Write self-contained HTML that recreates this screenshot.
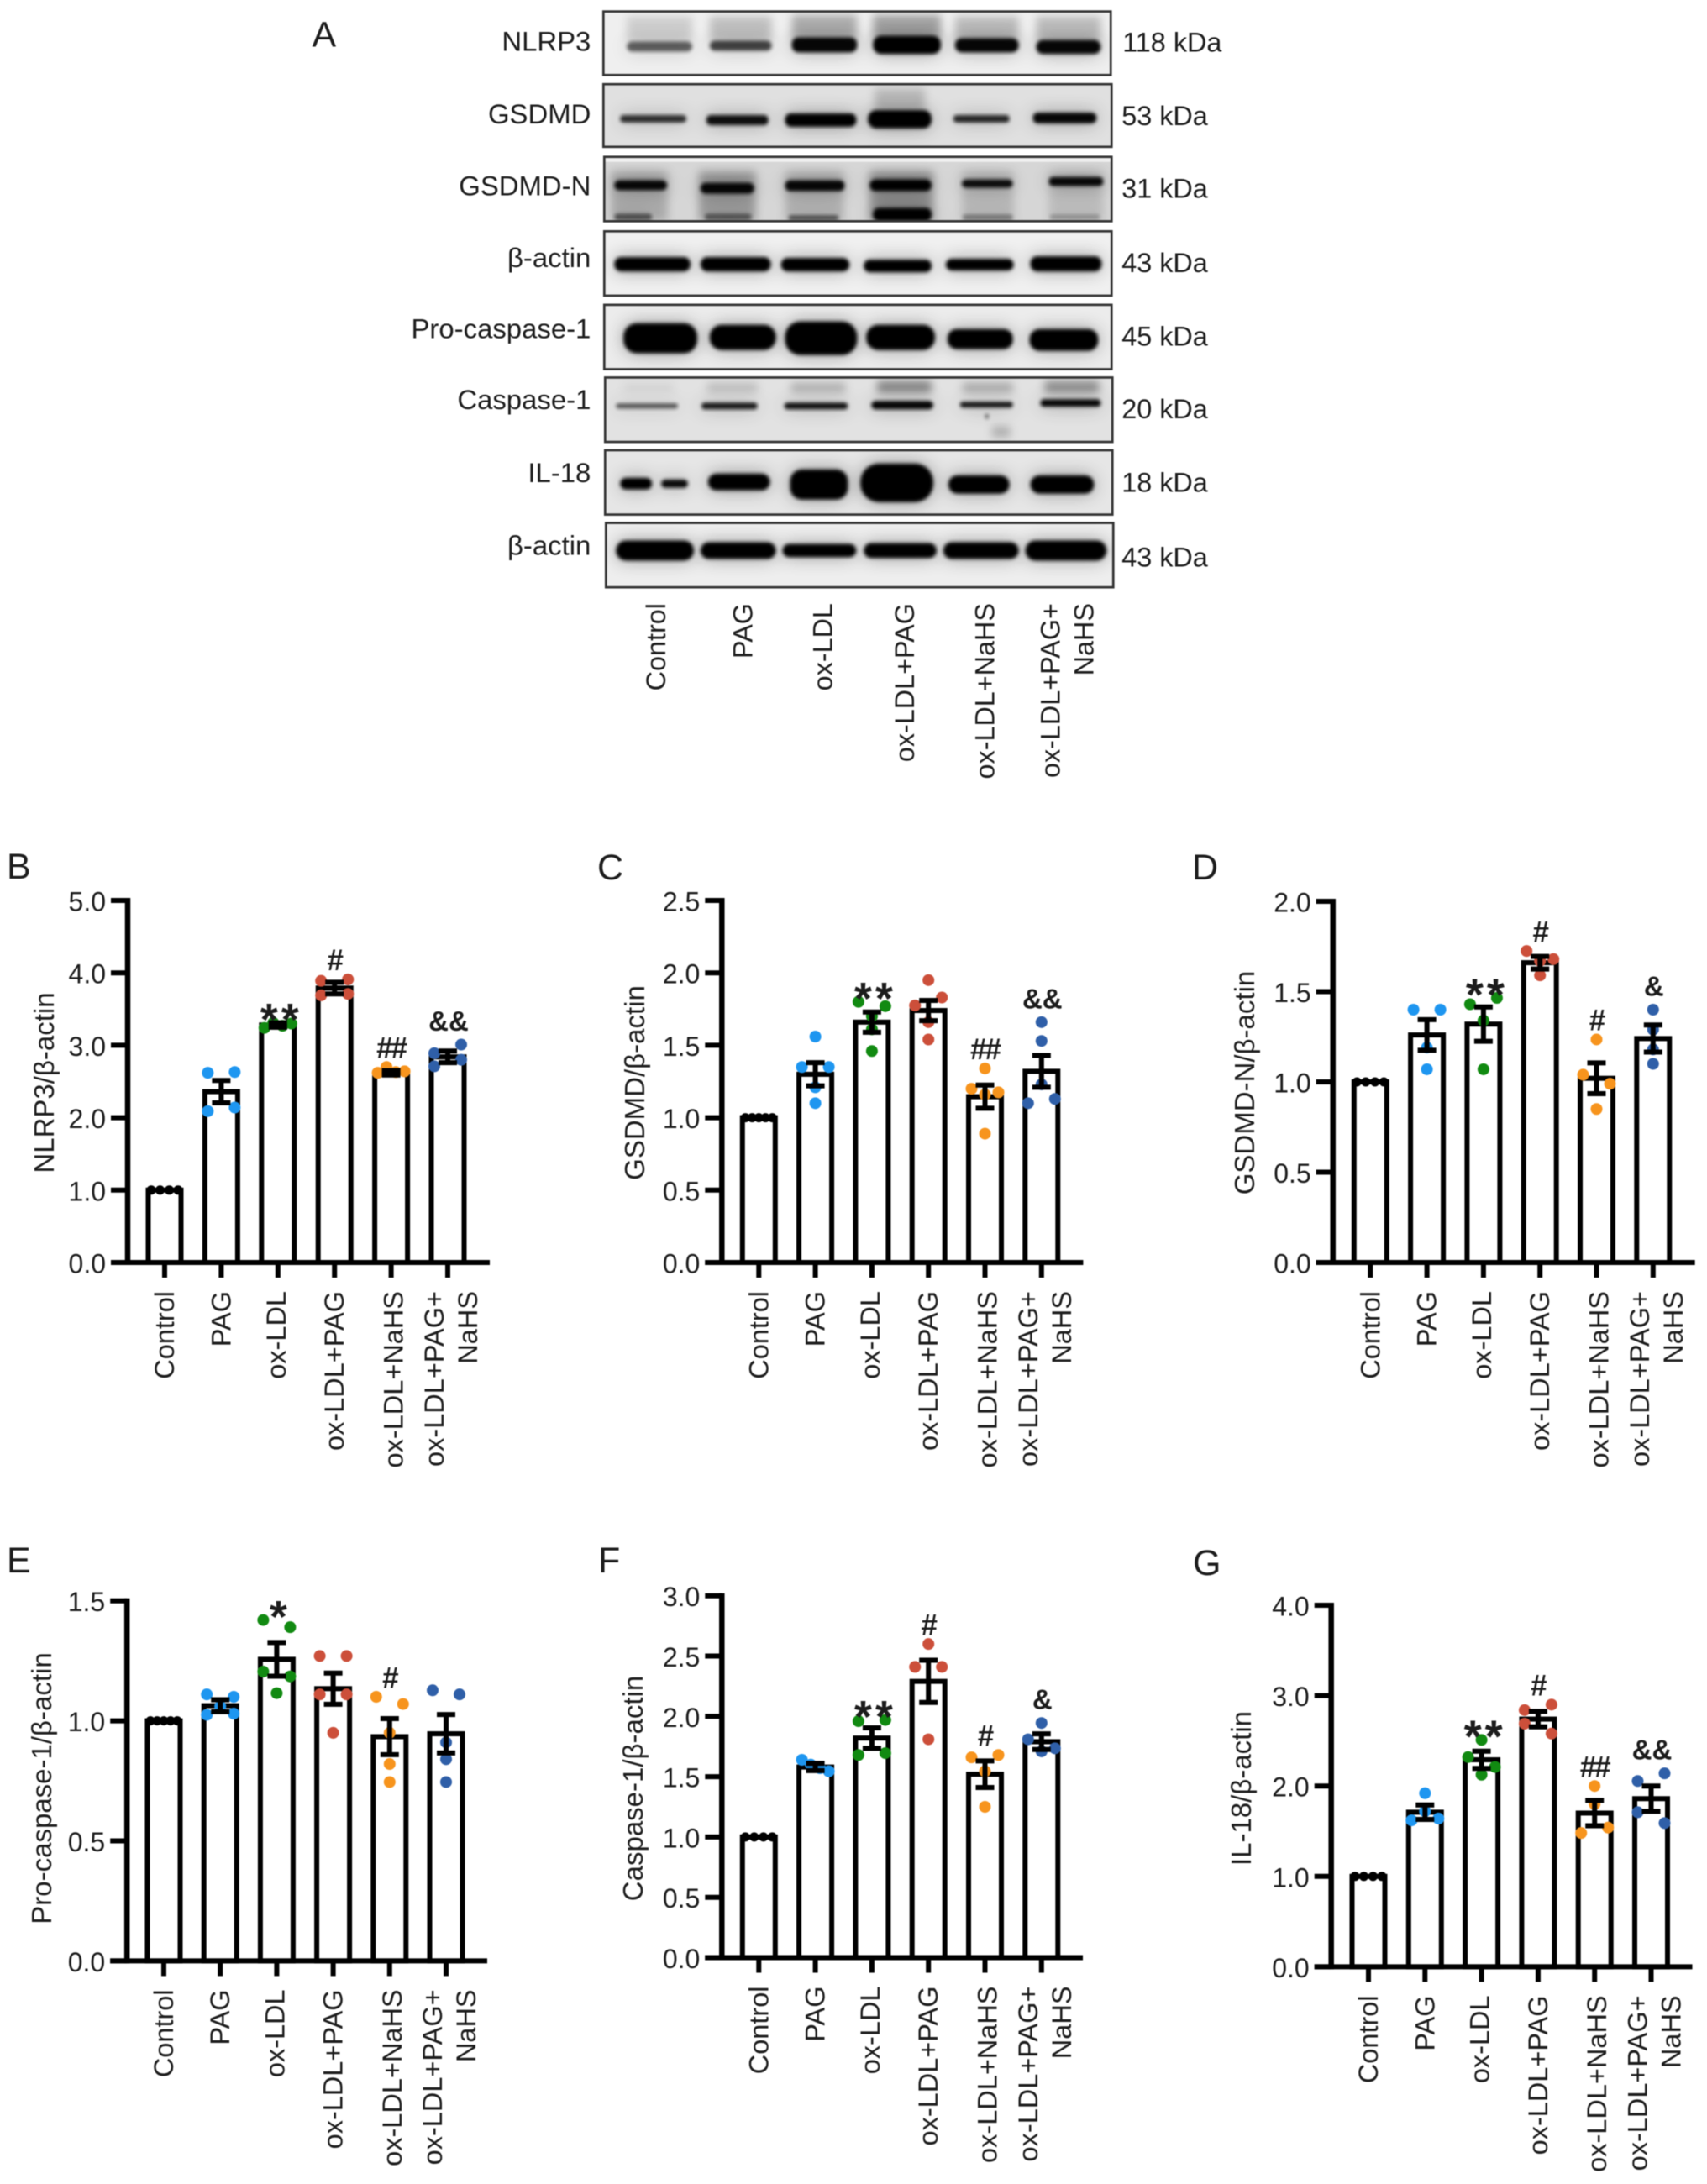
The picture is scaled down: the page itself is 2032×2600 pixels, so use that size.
<!DOCTYPE html>
<html lang="en">
<head>
<meta charset="utf-8">
<title>Western blot and densitometry panels</title>
<style>
html,body{margin:0;padding:0;background:#fff;}
svg text{font-family:"Liberation Sans",Arial,sans-serif;fill:#1c1c1c;}
#figure{display:block;filter:blur(0.6px);}
</style>
</head>
<body>
<svg id="figure" xmlns="http://www.w3.org/2000/svg" width="2032" height="2600" viewBox="0 0 2032 2600">
<defs>
<filter id="band-blur" x="-30%" y="-150%" width="160%" height="400%">
<feGaussianBlur in="SourceGraphic" stdDeviation="2.2" result="core"/>
<feGaussianBlur in="SourceGraphic" stdDeviation="11" result="wide"/>
<feComponentTransfer in="wide" result="halo"><feFuncA type="linear" slope="0.38"/></feComponentTransfer>
<feMerge><feMergeNode in="halo"/><feMergeNode in="core"/></feMerge>
</filter>
<filter id="soft-blur" x="-30%" y="-50%" width="160%" height="200%"><feGaussianBlur stdDeviation="5"/></filter>
</defs>
<rect width="2032" height="2600" fill="#fff"/>

<g id="panel-a" transform="matrix(.9966 0 0 .995 -.24 -.3)">
<text x="373" y="56" font-size="43">A</text>

<svg x="721" y="14" width="606" height="76" viewBox="721 14 606 76">
<rect x="721" y="14" width="606" height="76" fill="#efefef"/>
<g filter="url(#soft-blur)" fill="#000">
<rect x="749" y="20" width="78" height="30" opacity=".14"/>
<rect x="848" y="20" width="74" height="30" opacity=".2"/>
<rect x="946" y="18" width="78" height="30" opacity=".28"/>
<rect x="1043" y="18" width="81" height="30" opacity=".32"/>
<rect x="1141" y="20" width="76" height="30" opacity=".22"/>
<rect x="1238" y="20" width="77" height="30" opacity=".22"/>
</g>
<g filter="url(#band-blur)" fill="#000">
<rect x="749" y="50" width="78" height="12" rx="6" opacity=".58"/>
<rect x="848" y="49" width="74" height="12" rx="6" opacity=".7"/>
<rect x="946" y="45" width="78" height="18" rx="8" opacity=".97"/>
<rect x="1043" y="43" width="81" height="22" rx="10"/>
<rect x="1141" y="46" width="76" height="17" rx="8" opacity=".97"/>
<rect x="1238" y="48" width="77" height="17" rx="8" opacity=".97"/>
</g>
</svg>
<rect x="721" y="14" width="606" height="76" fill="none" stroke="#333" stroke-width="2.7"/>

<svg x="721" y="101" width="607" height="75" viewBox="721 101 607 75">
<rect x="721" y="101" width="607" height="75" fill="#e0e0e0"/>
<g filter="url(#soft-blur)" fill="#000">
<rect x="1045" y="106" width="60" height="28" opacity=".18"/>
</g>
<g filter="url(#band-blur)" fill="#000">
<rect x="741" y="138" width="79" height="9" rx="4" opacity=".78"/>
<rect x="844" y="138" width="74" height="12" rx="5" opacity=".92"/>
<rect x="938" y="136" width="85" height="16" rx="7"/>
<rect x="1037" y="132" width="76" height="22" rx="10"/>
<rect x="1139" y="138" width="67" height="9" rx="4" opacity=".82"/>
<rect x="1234" y="135" width="76" height="13" rx="6" opacity=".97"/>
</g>
</svg>
<rect x="721" y="101" width="607" height="75" fill="none" stroke="#333" stroke-width="2.7"/>

<svg x="722" y="188" width="606" height="77" viewBox="722 188 606 77">
<rect x="722" y="188" width="606" height="77" fill="#d6d6d6"/>
<rect x="722" y="188" width="606" height="6" fill="#f0f0f0"/>
<g filter="url(#soft-blur)" fill="#000">
<rect x="730" y="205" width="68" height="60" opacity=".2"/>
<rect x="835" y="205" width="68" height="60" opacity=".27"/>
<rect x="938" y="205" width="70" height="60" opacity=".17"/>
<rect x="1039" y="205" width="76" height="60" opacity=".3"/>
<rect x="1149" y="205" width="62" height="60" opacity=".14"/>
<rect x="1253" y="205" width="65" height="60" opacity=".12"/>
</g>
<g filter="url(#band-blur)" fill="#000">
<rect x="734" y="216" width="63" height="12" rx="6" opacity=".96"/>
<rect x="837" y="219" width="64" height="13" rx="6" opacity=".96"/>
<rect x="938" y="216" width="71" height="13" rx="6" opacity=".96"/>
<rect x="1039" y="215" width="74" height="14" rx="7"/>
<rect x="1149" y="215" width="61" height="10" rx="5" opacity=".92"/>
<rect x="1253" y="212" width="65" height="11" rx="5" opacity=".96"/>
<rect x="734" y="256" width="45" height="8" rx="4" opacity=".55"/>
<rect x="842" y="256" width="56" height="8" rx="4" opacity=".48"/>
<rect x="942" y="258" width="60" height="6" rx="3" opacity=".6"/>
<rect x="1043" y="249" width="70" height="16" rx="7"/>
<rect x="1150" y="257" width="60" height="7" rx="3" opacity=".36"/>
<rect x="1254" y="257" width="60" height="6" rx="3" opacity=".25"/>
</g>
</svg>
<rect x="722" y="188" width="606" height="77" fill="none" stroke="#333" stroke-width="2.7"/>

<svg x="722" y="277" width="606" height="77" viewBox="722 277 606 77">
<rect x="722" y="277" width="606" height="77" fill="#f0f0f0"/>
<g filter="url(#band-blur)" fill="#000">
<rect x="734" y="308" width="91" height="17" rx="8"/>
<rect x="837" y="308" width="84" height="17" rx="8"/>
<rect x="933" y="309" width="82" height="16" rx="8"/>
<rect x="1032" y="311" width="81" height="15" rx="7"/>
<rect x="1130" y="310" width="81" height="14" rx="7"/>
<rect x="1231" y="307" width="85" height="18" rx="8"/>
</g>
</svg>
<rect x="722" y="277" width="606" height="77" fill="none" stroke="#333" stroke-width="2.7"/>

<svg x="722" y="365" width="606" height="77" viewBox="722 365 606 77">
<rect x="722" y="365" width="606" height="77" fill="#ececec"/>
<g filter="url(#band-blur)" fill="#000">
<rect x="745" y="387" width="88" height="36" rx="16"/>
<rect x="848" y="389" width="79" height="30" rx="14"/>
<rect x="938" y="385" width="86" height="40" rx="18"/>
<rect x="1035" y="389" width="82" height="30" rx="14"/>
<rect x="1132" y="394" width="78" height="24" rx="11"/>
<rect x="1230" y="394" width="82" height="26" rx="12"/>
</g>
</svg>
<rect x="722" y="365" width="606" height="77" fill="none" stroke="#333" stroke-width="2.7"/>

<svg x="723" y="452" width="606" height="77" viewBox="723 452 606 77">
<rect x="723" y="452" width="606" height="77" fill="#e2e2e2"/>
<g filter="url(#soft-blur)" fill="#000">
<rect x="745" y="458" width="60" height="12" opacity=".06"/>
<rect x="845" y="458" width="60" height="12" opacity=".16"/>
<rect x="945" y="458" width="65" height="12" opacity=".22"/>
<rect x="1048" y="456" width="65" height="14" opacity=".42"/>
<rect x="1150" y="458" width="60" height="12" opacity=".25"/>
<rect x="1248" y="456" width="65" height="14" opacity=".38"/>
<rect x="1185" y="510" width="22" height="14" opacity=".22"/>
</g>
<g filter="url(#band-blur)" fill="#000">
<rect x="736" y="483" width="74" height="6" rx="3" opacity=".62"/>
<rect x="838" y="482" width="67" height="8" rx="4" opacity=".88"/>
<rect x="937" y="482" width="76" height="8" rx="4" opacity=".92"/>
<rect x="1041" y="480" width="74" height="10" rx="5" opacity=".97"/>
<rect x="1147" y="481" width="63" height="7" rx="3" opacity=".9"/>
<rect x="1243" y="478" width="72" height="9" rx="4" opacity=".97"/>
<rect x="1177" y="496" width="4" height="5" opacity=".6"/>
</g>
</svg>
<rect x="723" y="452" width="606" height="77" fill="none" stroke="#333" stroke-width="2.7"/>

<svg x="723" y="539" width="606" height="77" viewBox="723 539 606 77">
<rect x="723" y="539" width="606" height="77" fill="#e6e6e6"/>
<g filter="url(#band-blur)" fill="#000">
<rect x="741" y="572" width="38" height="14" rx="7"/>
<rect x="790" y="574" width="32" height="10" rx="5" opacity=".95"/>
<rect x="846" y="567" width="74" height="20" rx="10"/>
<rect x="944" y="562" width="69" height="36" rx="14"/>
<rect x="1028" y="555" width="87" height="46" rx="22"/>
<rect x="1133" y="569" width="73" height="22" rx="11"/>
<rect x="1231" y="569" width="76" height="22" rx="11"/>
</g>
</svg>
<rect x="723" y="539" width="606" height="77" fill="none" stroke="#333" stroke-width="2.7"/>

<svg x="724" y="626" width="606" height="77" viewBox="724 626 606 77">
<rect x="724" y="626" width="606" height="77" fill="#eeeeee"/>
<g filter="url(#band-blur)" fill="#000">
<rect x="736" y="647" width="93" height="24" rx="12"/>
<rect x="837" y="649" width="90" height="20" rx="10"/>
<rect x="935" y="651" width="88" height="16" rx="8"/>
<rect x="1032" y="650" width="87" height="18" rx="9"/>
<rect x="1127" y="649" width="90" height="20" rx="10"/>
<rect x="1225" y="647" width="97" height="24" rx="12"/>
</g>
</svg>
<rect x="724" y="626" width="606" height="77" fill="none" stroke="#333" stroke-width="2.7"/>

<g font-size="33" text-anchor="end">
<text x="706" y="61">NLRP3</text>
<text x="706" y="148">GSDMD</text>
<text x="706" y="234">GSDMD-N</text>
<text x="706" y="320">β-actin</text>
<text x="706" y="405">Pro-caspase-1</text>
<text x="706" y="490">Caspase-1</text>
<text x="706" y="577">IL-18</text>
<text x="706" y="664">β-actin</text>
</g>
<g font-size="32.5">
<text x="1341" y="62">118 kDa</text>
<text x="1340" y="150">53 kDa</text>
<text x="1340" y="237">31 kDa</text>
<text x="1340" y="326">43 kDa</text>
<text x="1340" y="414">45 kDa</text>
<text x="1340" y="501">20 kDa</text>
<text x="1340" y="589">18 kDa</text>
<text x="1340" y="678">43 kDa</text>
</g>
<g font-size="32.5" text-anchor="end">
<text transform="translate(795 722) rotate(-90)">Control</text>
<text transform="translate(899 722) rotate(-90)">PAG</text>
<text transform="translate(994 722) rotate(-90)">ox-LDL</text>
<text transform="translate(1092 722) rotate(-90)">ox-LDL+PAG</text>
<text transform="translate(1188 722) rotate(-90)">ox-LDL+NaHS</text>
<text transform="translate(1266 722) rotate(-90)">ox-LDL+PAG+</text>
<text transform="translate(1306 722) rotate(-90)">NaHS</text>
</g>
</g>
<g id="charts"></g>
</svg>

<script>
// Shared categories and colours
const categories = ['Control', 'PAG', 'ox-LDL', 'ox-LDL+PAG', 'ox-LDL+NaHS', ['ox-LDL+PAG+', 'NaHS']];
const groupSlugs = ['control', 'pag', 'ox-ldl', 'ox-ldl-pag', 'ox-ldl-nahs', 'ox-ldl-pag-nahs'];
const groupColors = ['#000000', '#1e96f0', '#118a11', '#cc4f3a', '#f7941d', '#2f5fa8'];

// Panel B: NLRP3
const bTicks = ['0.0', '1.0', '2.0', '3.0', '4.0', '5.0'];
const bMeans = [1.0, 2.36, 3.28, 3.79, 2.62, 2.84];
const bErrors = [0, 0.155, 0.03, 0.08, 0.03, 0.08];
const bPoints = [[1, 1, 1, 1], [2.62, 2.63, 2.09, 2.14], [3.24, 3.31, 3.27, 3.30], [3.89, 3.91, 3.69, 3.71], [2.62, 2.70, 2.63, 2.64], [2.89, 3.01, 2.71, 2.80]];
const bSignificance = ['', '', '**', '#', '##', '&&'];

// Panel C: GSDMD
const cTicks = ['0.0', '0.5', '1.0', '1.5', '2.0', '2.5'];
const cMeans = [1.0, 1.30, 1.66, 1.74, 1.145, 1.32];
const cErrors = [0, 0.08, 0.07, 0.07, 0.08, 0.11];
const cPoints = [[1, 1, 1, 1, 1], [1.56, 1.35, 1.35, 1.21, 1.10], [1.80, 1.77, 1.70, 1.61, 1.46], [1.95, 1.775, 1.83, 1.66, 1.54], [1.34, 1.20, 1.16, 1.175, 0.89], [1.66, 1.53, 1.23, 1.10, 1.13]];
const cSignificance = ['', '', '**', '', '##', '&&'];

// Panel D: GSDMD-N
const dTicks = ['0.0', '0.5', '1.0', '1.5', '2.0'];
const dMeans = [1.0, 1.26, 1.32, 1.66, 1.02, 1.24];
const dErrors = [0, 0.085, 0.095, 0.035, 0.085, 0.075];
const dPoints = [[1, 1, 1, 1], [1.40, 1.40, 1.19, 1.07], [1.43, 1.465, 1.34, 1.07], [1.725, 1.67, 1.68, 1.59], [1.235, 1.04, 0.99, 0.85], [1.40, 1.29, 1.18, 1.10]];
const dSignificance = ['', '', '**', '#', '#', '&'];

// Panel E: Pro-caspase-1
const eTicks = ['0.0', '0.5', '1.0', '1.5'];
const eMeans = [1.0, 1.063, 1.256, 1.134, 0.934, 0.946];
const eErrors = [0, 0.025, 0.07, 0.065, 0.075, 0.08];
const ePoints = [[1, 1, 1, 1, 1], [1.11, 1.10, 1.025, 1.06, 1.03], [1.42, 1.39, 1.205, 1.185, 1.115], [1.27, 1.27, 1.11, 1.11, 0.95], [1.10, 1.07, 0.95, 0.82, 0.745], [1.127, 1.11, 0.91, 0.84, 0.745]];
const eSignificance = ['', '', '*', '', '#', ''];

// Panel F: Caspase-1
const fTicks = ['0.0', '0.5', '1.0', '1.5', '2.0', '2.5', '3.0'];
const fMeans = [1.0, 1.58, 1.82, 2.29, 1.52, 1.79];
const fErrors = [0, 0.03, 0.085, 0.175, 0.11, 0.065];
const fPoints = [[1, 1, 1, 1], [1.64, 1.60, 1.57, 1.545], [1.96, 1.97, 1.68, 1.695], [2.60, 2.41, 2.41, 1.81], [1.66, 1.68, 1.545, 1.25], [1.945, 1.81, 1.735, 1.71]];
const fSignificance = ['', '', '**', '#', '#', '&'];

// Panel G: IL-18
const gTicks = ['0.0', '1.0', '2.0', '3.0', '4.0'];
const gMeans = [1.0, 1.71, 2.29, 2.74, 1.70, 1.86];
const gErrors = [0, 0.08, 0.095, 0.085, 0.14, 0.14];
const gPoints = [[1, 1, 1, 1], [1.92, 1.62, 1.72, 1.64], [2.51, 2.32, 2.21, 2.125], [2.84, 2.90, 2.69, 2.58], [2.0, 1.80, 1.48, 1.54], [2.055, 2.14, 1.71, 1.59]];
const gSignificance = ['', '', '**', '#', '##', '&&'];

const SVG_NS = 'http://www.w3.org/2000/svg';

function make(parent, tag, attrs, text) {
  const el = document.createElementNS(SVG_NS, tag);
  for (const k in attrs) el.setAttribute(k, attrs[k]);
  if (text !== undefined) el.textContent = text;
  parent.appendChild(el);
  return el;
}

// Beeswarm: values closer than one dot height share a row and spread sideways.
function swarmOffsets(values, yPos) {
  const layouts = {1: [0], 2: [-16, 16], 3: [-16, 0, 16], 4: [-16, -5.5, 5.5, 16], 5: [-16, -8, 0, 8, 16]};
  const order = values.map((v, i) => i).sort((a, b) => values[b] - values[a]);
  const offsets = new Array(values.length).fill(0);
  let row = [];
  const flush = () => {
    row.sort((a, b) => a - b);
    const layout = layouts[row.length];
    row.forEach((idx, n) => { offsets[idx] = layout[n]; });
    row = [];
  };
  order.forEach(idx => {
    if (row.length && yPos(values[idx]) - yPos(values[row[0]]) >= 14) flush();
    row.push(idx);
  });
  if (row.length) flush();
  return offsets;
}

function significanceStyle(mark) {
  if (mark[0] === '*') return {size: 54, lift: 0.56, gap: 16, spacing: 4, shift: 4};
  if (mark[0] === '#') return {size: 35, lift: 0.35, gap: 23, spacing: mark.length > 1 ? -2 : 0, shift: mark.length > 1 ? 0 : 1};
  return {size: 33, lift: 0.35, gap: 28, spacing: 0, shift: 1};
}

function drawPanel(cfg) {
  const root = document.getElementById('charts');
  const g = make(root, 'g', {});
  
  

  const yBottom = cfg.yBottom, yTop = cfg.yTop;
  const maxValue = parseFloat(cfg.ticks[cfg.ticks.length - 1]);
  const yScale = v => yBottom - (v / maxValue) * (yBottom - yTop);
  const xScale = i => cfg.x0 + i * cfg.step;

  const letter = make(g, 'text', {x: cfg.letterX, y: cfg.letterY, 'font-size': 43}, cfg.id.toUpperCase());
  
  

  const title = make(g, 'text', {'font-size': 33, 'text-anchor': 'middle', transform: 'translate(' + cfg.titleX + ' ' + cfg.titleY + ') rotate(-90)'}, cfg.title);
  
  

  // Bars, dots and error bars per group
  cfg.means.forEach((mean, i) => {
    const cx = xScale(i);
    const slug = cfg.id + '-' + groupSlugs[i];
    const bar = make(g, 'rect', {x: cx - 19.5, y: yScale(mean), width: 39, height: yBottom - yScale(mean), fill: '#fff', stroke: '#000', 'stroke-width': 6});
    
    

    const values = cfg.points[i];
    const offsets = swarmOffsets(values, yScale);
    values.forEach((v, j) => {
      const dot = make(g, 'circle', {cx: cx + offsets[j], cy: yScale(v), r: i === 0 ? 5.5 : 7, fill: groupColors[i]});
      
      
    });

    const err = cfg.errors[i];
    if (err > 0) {
      const stem = make(g, 'line', {x1: cx, x2: cx, y1: yScale(mean + err), y2: yScale(mean - err), stroke: '#000', 'stroke-width': 6});
      
      
      [mean + err, mean - err].forEach(level => {
        const cap = make(g, 'line', {x1: cx - 11, x2: cx + 11, y1: yScale(level), y2: yScale(level), stroke: '#000', 'stroke-width': 6});
        
        
      });
    }

    const mark = cfg.significance[i];
    if (mark) {
      const topValue = Math.max(mean + err, Math.max.apply(null, values));
      const style = significanceStyle(mark);
      const baseline = yScale(topValue) - style.gap + style.lift * style.size;
      const label = make(g, 'text', {x: cx + style.shift, y: baseline, 'font-size': style.size, 'font-weight': 'bold', 'text-anchor': 'middle', 'letter-spacing': style.spacing, fill: '#000'}, mark);
      
      
    }
  });

  // Axes
  const yAxis = make(g, 'line', {x1: cfg.axisX, x2: cfg.axisX, y1: yTop - 3, y2: yBottom + 3, stroke: '#000', 'stroke-width': 6.5});
  
  
  const xAxis = make(g, 'line', {x1: cfg.axisX - 20, x2: cfg.xEnd, y1: yBottom, y2: yBottom, stroke: '#000', 'stroke-width': 6});
  
  

  cfg.ticks.forEach(tick => {
    const y = yScale(parseFloat(tick));
    const mark = make(g, 'line', {x1: cfg.axisX - 20, x2: cfg.axisX, y1: y, y2: y, stroke: '#000', 'stroke-width': 6});
    
    
    const label = make(g, 'text', {x: cfg.axisX - 26, y: y + 12.5, 'font-size': 32, 'text-anchor': 'end'}, tick);
    
    
  });

  const singleShift = [11, 11, 9, 11, 14];
  const pairShift = [-5, 35];
  categories.forEach((cat, i) => {
    const cx = xScale(i);
    const slug = cfg.id + '-' + groupSlugs[i];
    const mark = make(g, 'line', {x1: cx, x2: cx, y1: yBottom, y2: yBottom + 18, stroke: '#000', 'stroke-width': 6});
    
    
    const lines = Array.isArray(cat) ? cat : [cat];
    lines.forEach((line, n) => {
      const shift = Array.isArray(cat) ? pairShift[n] : singleShift[i];
      const label = make(g, 'text', {'font-size': 32.5, 'text-anchor': 'end', transform: 'translate(' + (cx + shift) + ' ' + (yBottom + 34) + ') rotate(-90)'}, line);
      
      
    });
  });
}

drawPanel({id: 'b', title: 'NLRP3/β-actin', ticks: bTicks, means: bMeans, errors: bErrors, points: bPoints, significance: bSignificance,
  x0: 196, step: 67.4, axisX: 152, xEnd: 583, yTop: 1072, yBottom: 1503, titleX: 64, titleY: 1289, letterX: 8, letterY: 1046});
drawPanel({id: 'c', title: 'GSDMD/β-actin', ticks: cTicks, means: cMeans, errors: cErrors, points: cPoints, significance: cSignificance,
  x0: 903.3, step: 67.3, axisX: 859.3, xEnd: 1289.4, yTop: 1072, yBottom: 1503, titleX: 767, titleY: 1289, letterX: 711, letterY: 1047});
drawPanel({id: 'd', title: 'GSDMD-N/β-actin', ticks: dTicks, means: dMeans, errors: dErrors, points: dPoints, significance: dSignificance,
  x0: 1631.3, step: 67.3, axisX: 1586.7, xEnd: 2017.7, yTop: 1073, yBottom: 1503, titleX: 1493, titleY: 1289, letterX: 1419, letterY: 1047});
drawPanel({id: 'e', title: 'Pro-caspase-1/β-actin', ticks: eTicks, means: eMeans, errors: eErrors, points: ePoints, significance: eSignificance,
  x0: 195, step: 67.2, axisX: 151.2, xEnd: 580, yTop: 1905.7, yBottom: 2334.4, titleX: 61, titleY: 2129, letterX: 8, letterY: 1872});
drawPanel({id: 'f', title: 'Caspase-1/β-actin', ticks: fTicks, means: fMeans, errors: fErrors, points: fPoints, significance: fSignificance,
  x0: 903.3, step: 67.3, axisX: 859.3, xEnd: 1289, yTop: 1899.7, yBottom: 2330.5, titleX: 765, titleY: 2129, letterX: 712, letterY: 1872});
drawPanel({id: 'g', title: 'IL-18/β-actin', ticks: gTicks, means: gMeans, errors: gErrors, points: gPoints, significance: gSignificance,
  x0: 1629, step: 67.3, axisX: 1584.7, xEnd: 2014.5, yTop: 1911, yBottom: 2341.4, titleX: 1489, titleY: 2129, letterX: 1420, letterY: 1875});
</script>
</body>
</html>
